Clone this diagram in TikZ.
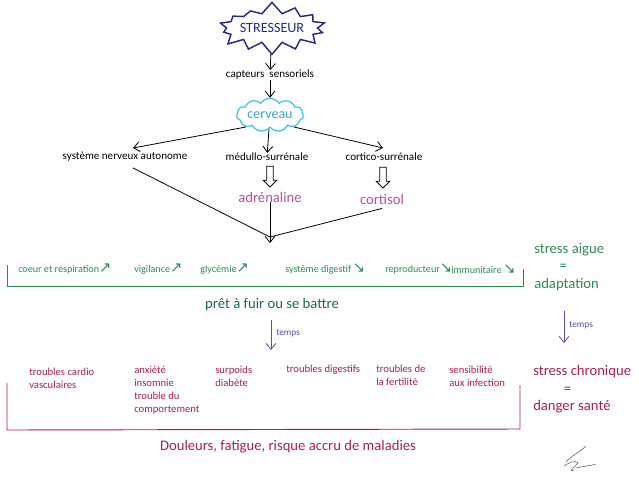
\documentclass[tikz,border=0pt]{standalone}
\usepackage{fontspec}
\setmainfont{Carlito}
\newfontfamily\arrowfont{DejaVu Sans}
\usetikzlibrary{arrows.meta,shapes.symbols,shapes.arrows}
\definecolor{navyink}{HTML}{25298A}
\definecolor{cloudline}{HTML}{3FC0DA}
\definecolor{cloudtext}{HTML}{38A4C2}
\definecolor{hormone}{HTML}{B8509E}
\definecolor{greenink}{HTML}{2E8A56}
\definecolor{greendark}{HTML}{1E6A3E}
\definecolor{redink}{HTML}{A62247}
\definecolor{timeink}{HTML}{5252A0}
\newcommand{\hausse}{{\arrowfont\fontsize{11}{10}\selectfont\char"2197}}
\newcommand{\baisse}{{\arrowfont\fontsize{11}{10}\selectfont\char"2198}}

\begin{document}
\begin{tikzpicture}[
    x=0.75pt, y=-0.75pt,
    every node/.style={inner sep=0pt},
    label/.style={font=\fontsize{8.3}{10}\selectfont},
    effect/.style={anchor=west, text=greenink, font=\fontsize{7.6}{9}\selectfont},
    illness/.style={anchor=north west, align=left, text=redink, font=\fontsize{8}{9.8}\selectfont},
    hormonetxt/.style={text=hormone, font=\fontsize{11}{13}\selectfont},
    verdict/.style={align=left, font=\fontsize{11}{13.2}\selectfont},
    flow/.style={-{Straight Barb[length=1.6mm, width=2.6mm]}, line width=0.6pt},
    joint/.style={line width=0.6pt},
    block/.style={single arrow, draw, line width=0.6pt, shape border rotate=270,
        minimum height=15.5pt, minimum width=10pt, inner sep=2.2pt, single arrow head extend=2.6pt},
    timeflow/.style={-{Straight Barb[length=1.6mm, width=2.6mm]}, draw=timeink, line width=0.6pt},
    timelabel/.style={anchor=west, text=timeink, font=\fontsize{7}{8}\selectfont}
]
\useasboundingbox (0,0) rectangle (639,490);

% axe central
\node[starburst, starburst points=14, starburst point height=9pt, random starburst=7,
    draw=navyink, line width=1.1pt, minimum width=70pt, minimum height=40pt,
    text=navyink, font=\fontsize{10.6}{12}\selectfont] (stresseur) at (272,28) {STRESSEUR};
\node[label] (capteurs) at (270,75) {capteurs\ \ sensoriels};
\node[cloud, cloud puffs=11, cloud puff arc=115, aspect=2.6, draw=cloudline, line width=0.9pt,
    minimum width=50pt, minimum height=19pt, text=cloudtext,
    font=\fontsize{10.5}{12}\selectfont] (cerveau) at (270,115) {cerveau};
\node[label] (sna) at (125,157) {système nerveux autonome};
\node[label] (medullo) at (267,157) {médullo-surrénale};
\node[label] (cortico) at (384,157) {cortico-surrénale};
\node[block] (blocA) at (270,175) {};
\node[block] (blocB) at (383,176) {};
\node[hormonetxt] (adrenaline) at (270,197) {adrénaline};
\node[hormonetxt] (cortisol) at (382,199) {cortisol};
\coordinate (merge) at (270,237);
\coordinate (mergetip) at (270,243);

\draw[flow] (stresseur) -- (capteurs);
\draw[flow] (capteurs) -- (cerveau);
\draw[flow] (cerveau.south west) -- (133,148);
\draw[flow] (cerveau) -- (medullo);
\draw[flow] (cerveau.south east) -- (383,148);
\draw[joint] (sna.south) ++(8,6) -- (merge);
\draw[joint] (cortisol.south) ++(0,4) -- (merge);
\draw[flow] (adrenaline) -- (mergetip);

% stress aigu
\node[effect] (coeur) at (18,269) {coeur et respiration\hausse};
\node[effect] (vigilance) at (134,269) {vigilance\hausse};
\node[effect] (glycemie) at (200,269) {glycémie\hausse};
\node[effect] (digestif) at (285,269) {système digestif\,\baisse};
\node[effect] (reproducteur) at (385,269) {reproducteur\baisse};
\node[effect] (immunitaire) at (451,269) {immunitaire\,\baisse};
\draw[greenink, line width=0.7pt] (7,265) -- (7,286) -- (523,286) -- (523,269);
\node[text=greendark, font=\fontsize{11}{13}\selectfont] (pret) at (272,305) {prêt à fuir ou se battre};
\node[verdict, text=greenink, anchor=north west] (aigue) at (534,243) {stress aigue\\\hspace*{19pt}=\\adaptation};

% passage au chronique
\coordinate (tempsA) at (271,320);
\coordinate (tempsB) at (271,350);
\draw[timeflow] (tempsA) -- (tempsB);
\node[timelabel] at (276,333) {temps};
\coordinate (tempsC) at (564,311);
\coordinate (tempsD) at (564,343);
\draw[timeflow] (tempsC) -- (tempsD);
\node[timelabel] at (569,325) {temps};

% stress chronique
\node[illness] (cardio) at (29,368) {troubles cardio\\vasculaires};
\node[illness] (anxiete) at (134,366) {anxiété\\insomnie\\trouble du\\comportement};
\node[illness] (surpoids) at (215,366) {surpoids\\diabète};
\node[illness] (digestifs) at (286,365) {troubles digestifs};
\node[illness] (fertilite) at (376,365) {troubles de\\la fertilité};
\node[illness] (infection) at (449,366) {sensibilité\\aux infection};
\draw[redink, line width=0.7pt] (7,383) -- (7,430) -- (520,429) -- (520,385);
\node[text=redink, font=\fontsize{11}{13}\selectfont] (douleurs) at (288,447) {Douleurs, fatigue, risque accru de maladies};
\node[verdict, text=redink, anchor=north west] (chronique) at (533,365) {stress chronique\\\hspace*{23pt}=\\danger santé};

% signature
\draw[gray!70!black, line width=0.4pt] (566,462) .. controls (572,455) and (580,452) .. (586,446)
  (564,466) .. controls (570,462) and (575,460) .. (578,463) .. controls (572,470) and (568,472) .. (574,470)
  (576,468) .. controls (584,466) and (590,466) .. (596,464);
\end{tikzpicture}
\end{document}
